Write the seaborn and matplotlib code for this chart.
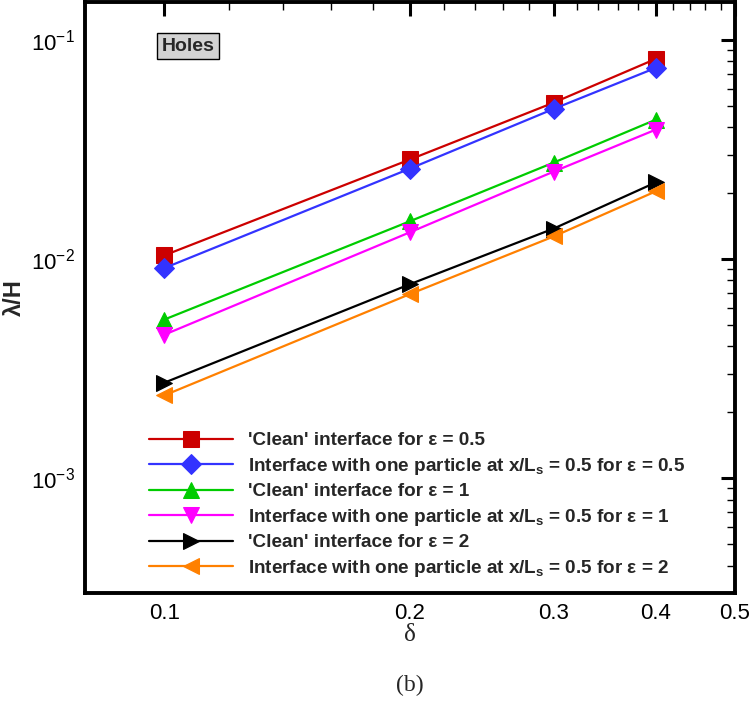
import matplotlib
matplotlib.use("Agg")
import matplotlib.pyplot as plt
import seaborn as sns
import pandas as pd
import numpy as np
from matplotlib.ticker import FixedLocator, NullFormatter

sns.set_theme(style="white")
plt.rcParams['font.family'] = ['Liberation Sans', 'DejaVu Sans']

delta = [0.1, 0.2, 0.3, 0.4]
clean_05 = [0.0104, 0.0285, 0.0518, 0.0820]
part_05 = [0.0091, 0.0259, 0.0485, 0.0746]
clean_1 = [0.0053, 0.0149, 0.0276, 0.0433]
part_1 = [0.00452, 0.01327, 0.0251, 0.0390]
clean_2 = [0.00273, 0.00769, 0.0138, 0.0224]
part_2 = [0.00239, 0.00693, 0.0127, 0.0204]

labels = [
    "'Clean' interface for ε = 0.5",
    "Interface with one particle at x/L$_\\mathregular{s}$ = 0.5 for ε = 0.5",
    "'Clean' interface for ε = 1",
    "Interface with one particle at x/L$_\\mathregular{s}$ = 0.5 for ε = 1",
    "'Clean' interface for ε = 2",
    "Interface with one particle at x/L$_\\mathregular{s}$ = 0.5 for ε = 2",
]
series = [clean_05, part_05, clean_1, part_1, clean_2, part_2]
colors = ['#cc0000', '#3333ff', '#00cc00', '#ff00ff', '#000000', '#ff8000']
markers = ['s', 'D', '^', 'v', '>', '<']
msizes = [11, 10, 11, 11, 11, 11]

fig = plt.figure(figsize=(7.52, 7.12), dpi=100)
ax = fig.add_axes([85/752, 1-593/712, (735-85)/752, (593-2)/712])

for lab, vals, c, m, ms in zip(labels, series, colors, markers, msizes):
    df = pd.DataFrame({'delta': delta, 'lam': vals})
    sns.lineplot(data=df, x='delta', y='lam', ax=ax, color=c, marker=m,
                 markersize=ms, markeredgecolor=c, linewidth=1.6, label=lab)

ax.set_xscale('log')
ax.set_yscale('log')
ax.set_xlim(0.08, 0.5)
ax.set_ylim(3.0e-4, 0.149)

ax.xaxis.set_major_locator(FixedLocator([0.1, 0.2, 0.3, 0.4, 0.5]))
ax.set_xticklabels(['0.1', '0.2', '0.3', '0.4', '0.5'])
xminor = [0.08, 0.12, 0.14, 0.16, 0.18, 0.22, 0.24, 0.26, 0.28,
          0.32, 0.34, 0.36, 0.38, 0.42, 0.44, 0.46, 0.48]
ax.xaxis.set_minor_locator(FixedLocator(xminor))
ax.xaxis.set_minor_formatter(NullFormatter())

ax.yaxis.set_major_locator(FixedLocator([1e-3, 1e-2, 1e-1]))
ax.set_yticklabels(['10$^{\\mathregular{-3}}$', '10$^{\\mathregular{-2}}$', '10$^{\\mathregular{-1}}$'])
yminor = [k * 10.0**e for e in (-4, -3, -2, -1) for k in range(2, 10)]
ax.yaxis.set_minor_locator(FixedLocator(yminor))
ax.yaxis.set_minor_formatter(NullFormatter())

ax.tick_params(which='major', direction='in', length=10, width=2.2,
               top=True, right=True, labelsize=16, pad=7, colors='black')
ax.tick_params(which='minor', direction='in', length=6, width=1.0,
               top=True, right=True, colors='black')
for sp in ax.spines.values():
    sp.set_linewidth(2.8)
    sp.set_color('black')

ax.set_xlabel('δ', fontsize=18, family=['Liberation Serif', 'DejaVu Serif'], labelpad=0)
ax.set_ylabel('λ/H', fontsize=17, fontweight='bold', labelpad=4)

ax.text(0.118, 0.9255, 'Holes', transform=ax.transAxes, fontsize=14,
        fontweight='bold', ha='left', va='center',
        bbox=dict(boxstyle='square,pad=0.22', facecolor='#d3d3d3',
                  edgecolor='black', linewidth=1.0))

leg = ax.legend(loc='lower left', bbox_to_anchor=(0.098, 0.024), frameon=False,
                prop={'weight': 'bold', 'size': 13.6}, handlelength=4.45,
                handletextpad=0.8, labelspacing=0.34, borderaxespad=0,
                borderpad=0)

fig.text(410/752, 1-685/712, '(b)', ha='center', va='center', fontsize=17,
         family=['Liberation Serif', 'DejaVu Serif'])

fig.savefig('out.png', dpi=100, facecolor='white')
